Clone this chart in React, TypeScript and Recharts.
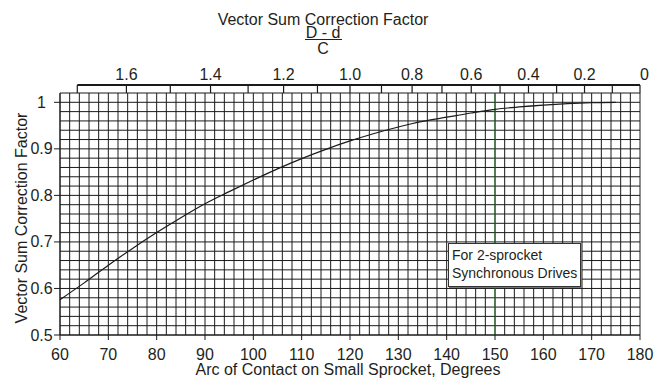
import React from 'react';
import { LineChart, Line, XAxis, YAxis, CartesianGrid, ReferenceLine } from 'recharts';

// ---- data ----
const arcDegrees = [60, 65, 70, 75, 80, 85, 90, 95, 100, 105, 110, 115, 120, 125, 130, 135, 140, 145, 150, 155, 160, 165, 170, 175];
const correctionFactor = [0.576, 0.612, 0.65, 0.686, 0.72, 0.752, 0.782, 0.808, 0.833, 0.857, 0.879, 0.899, 0.917, 0.933, 0.947, 0.959, 0.968, 0.977, 0.985, 0.99, 0.994, 0.997, 0.999, 1.0];

const xTickLabels = [60, 70, 80, 90, 100, 110, 120, 130, 140, 150, 160, 170, 180];
const yTickLabels = [0.5, 0.6, 0.7, 0.8, 0.9, 1];
const topRatioTicks = [1.7, 1.6, 1.5, 1.4, 1.3, 1.2, 1.1, 1.0, 0.9, 0.8, 0.7, 0.6, 0.5, 0.4, 0.3, 0.2, 0.1, 0];
const topRatioLabels = ['', '1.6', '', '1.4', '', '1.2', '', '1.0', '', '0.8', '', '0.6', '', '0.4', '', '0.2', '', '0'];
const referenceArc = 150;

const X_DOMAIN: [number, number] = [60, 180];
const Y_DOMAIN: [number, number] = [0.5, 1.02];
const X_GRID_STEP = 2;
const Y_GRID_STEP = 0.02;

const data = arcDegrees.map((arc, i) => ({ arc, factor: correctionFactor[i] }));

const xGridTicks: number[] = [];
for (let v = X_DOMAIN[0]; v <= X_DOMAIN[1] + 1e-9; v += X_GRID_STEP) xGridTicks.push(Math.round(v * 100) / 100);
const yGridTicks: number[] = [];
for (let i = 0; Y_DOMAIN[0] + i * Y_GRID_STEP <= Y_DOMAIN[1] + 1e-9; i++) yGridTicks.push(Math.round((Y_DOMAIN[0] + i * Y_GRID_STEP) * 1000) / 1000);

// (D-d)/C  ->  arc of contact (degrees)
const ratioToArc = (r: number) => 180 - (2 * Math.asin(r / 2) * 180) / Math.PI;
const topArcTicks = topRatioTicks.map(ratioToArc);

// ---- layout ----
const W = 668;
const H = 379;
const PLOT_LEFT = 60;
const PLOT_RIGHT = 640;
const PLOT_TOP = 93;
const PLOT_BOTTOM = 335;
const FONT = '"Liberation Sans", Arial, Helvetica, sans-serif';
const TEXT = '#231f20';
const INK = '#1a1a1a';
const PX_PER_Y = (PLOT_BOTTOM - PLOT_TOP) / (Y_DOMAIN[1] - Y_DOMAIN[0]);
const TOP_LINE_VALUE = Y_DOMAIN[1] + 8 / PX_PER_Y;

const near = (a: number, b: number) => Math.abs(a - b) < 1e-6;

const BottomTick = (props: any) => {
  const { x, payload } = props;
  const v = payload.value;
  if (!xTickLabels.some((t) => near(t, v))) return <g />;
  return (
    <g>
      <line x1={x} x2={x} y1={PLOT_BOTTOM} y2={PLOT_BOTTOM + 5} stroke={INK} strokeWidth={1} />
      <text x={x} y={PLOT_BOTTOM + 25} textAnchor="middle" fontFamily={FONT} fontSize={16} fill={TEXT}>
        {v}
      </text>
    </g>
  );
};

const LeftTick = (props: any) => {
  const { y, payload } = props;
  const v = payload.value;
  if (!yTickLabels.some((t) => near(t, v))) return <g />;
  return (
    <g>
      <line x1={PLOT_LEFT - 6} x2={PLOT_LEFT} y1={y} y2={y} stroke={INK} strokeWidth={1} />
      <text x={41.5} y={y + 5.5} textAnchor="middle" fontFamily={FONT} fontSize={16} fill={TEXT}>
        {near(v, 1) ? '1' : v.toFixed(1)}
      </text>
    </g>
  );
};

const makeTopLabel = (label: string, isLast: boolean) => (props: any) => {
  const vb = props.viewBox || {};
  const x = vb.x;
  const yTop = vb.y;
  if (!label || x == null) return null;
  return (
    <text x={x} y={yTop - 5} textAnchor={isLast ? 'start' : 'middle'} fontFamily={FONT} fontSize={16} fill={TEXT}>
      {label}
    </text>
  );
};

const TopTitle = (props: any) => {
  const cx = 323;
  return (
    <g fontFamily={FONT} fontSize={16} fill={TEXT}>
      <text x={cx} y={25} textAnchor="middle">Vector Sum Correction Factor</text>
      <text x={cx} y={37.5} textAnchor="middle">D - d</text>
      <line x1={305} x2={342} y1={39.5} y2={39.5} stroke={TEXT} strokeWidth={1} />
      <text x={cx} y={54} textAnchor="middle">C</text>
    </g>
  );
};

const BottomTitle = () => (
  <text x={348} y={375} textAnchor="middle" fontFamily={FONT} fontSize={16} fill={TEXT}>
    Arc of Contact on Small Sprocket, Degrees
  </text>
);

const LeftTitle = () => (
  <text
    x={0}
    y={0}
    transform={`translate(26.5, 218) rotate(-90)`}
    textAnchor="middle"
    fontFamily={FONT}
    fontSize={16}
    fill={TEXT}
  >
    Vector Sum Correction Factor
  </text>
);

export default function App() {
  return (
    <div style={{ position: 'absolute', left: 0, top: 0, width: W, height: H, background: '#fff' }}>
      <LineChart
        width={W}
        height={H}
        data={data}
        margin={{ top: PLOT_TOP, right: W - PLOT_RIGHT, bottom: 0, left: 0 }}
      >
        <CartesianGrid stroke={INK} strokeWidth={1} horizontal vertical xAxisId="bottom" yAxisId="left" />
        <XAxis
          xAxisId="bottom"
          dataKey="arc"
          type="number"
          domain={X_DOMAIN}
          ticks={xGridTicks}
          interval={0}
          allowDataOverflow
          height={H - PLOT_BOTTOM}
          axisLine={{ stroke: INK, strokeWidth: 1 }}
          tickLine={false}
          tick={<BottomTick />}
          label={{ content: () => <BottomTitle /> }}
        />
        <YAxis
          yAxisId="left"
          type="number"
          domain={Y_DOMAIN}
          ticks={yGridTicks}
          interval={0}
          allowDataOverflow
          width={PLOT_LEFT}
          axisLine={{ stroke: INK, strokeWidth: 1 }}
          tickLine={false}
          tick={<LeftTick />}
          label={{ content: () => <LeftTitle /> }}
        />
        <ReferenceLine xAxisId="bottom" yAxisId="left" x={referenceArc} stroke="#1f6f1f" strokeWidth={1} />
        {/* top (D-d)/C axis: baseline */}
        <ReferenceLine
          xAxisId="bottom"
          yAxisId="left"
          segment={[
            { x: topArcTicks[0], y: TOP_LINE_VALUE },
            { x: topArcTicks[topArcTicks.length - 1], y: TOP_LINE_VALUE },
          ]}
          ifOverflow="visible"
          stroke={INK}
          strokeWidth={2}
          label={{ content: (p: any) => <TopTitle {...p} /> }}
        />
        {/* top (D-d)/C axis: ticks and labels */}
        {topArcTicks.map((arc, i) => (
          <ReferenceLine
            key={`top-${i}`}
            xAxisId="bottom"
            yAxisId="left"
            segment={[
              { x: arc, y: Y_DOMAIN[1] },
              { x: arc, y: TOP_LINE_VALUE },
            ]}
            ifOverflow="visible"
            stroke={INK}
            strokeWidth={1.2}
            label={{ content: makeTopLabel(topRatioLabels[i], i === topArcTicks.length - 1) }}
          />
        ))}
        <Line
          xAxisId="bottom"
          yAxisId="left"
          type="monotone"
          dataKey="factor"
          stroke={INK}
          strokeWidth={1.2}
          dot={false}
          activeDot={false}
          isAnimationActive={false}
        />
      </LineChart>
      <div
        style={{
          position: 'absolute',
          left: 448,
          top: 243,
          width: 133,
          height: 44,
          boxSizing: 'border-box',
          border: '1px solid #333',
          boxShadow: '1px 1px 0 #777',
          background: '#fff',
          fontFamily: FONT,
          fontSize: 14,
          lineHeight: '18px',
          color: TEXT,
          padding: '2px 0 0 3px',
          whiteSpace: 'nowrap',
        }}
      >
        For 2-sprocket
        <br />
        Synchronous Drives
      </div>
    </div>
  );
}
